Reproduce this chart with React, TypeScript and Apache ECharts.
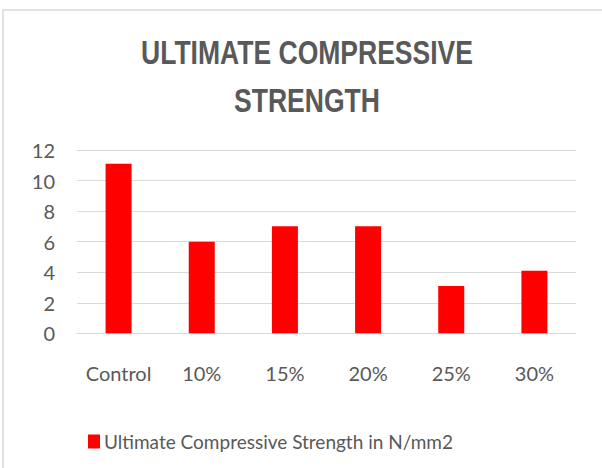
import React, { useEffect, useRef } from "react";
import * as echarts from "echarts";

const categories = ["Control", "10%", "15%", "20%", "25%", "30%"];
const strengthValues = [11.1, 6, 7, 7, 3.1, 4.1];
const seriesName = "Ultimate Compressive Strength in N/mm2";
const titleLines = ["ULTIMATE COMPRESSIVE", "STRENGTH"];

export default function App() {
  const ref = useRef<HTMLDivElement>(null);
  useEffect(() => {
    if (!ref.current) return;
    const chart = echarts.init(ref.current, undefined, { renderer: "svg" });
    const textColor = "#595959";
    const labelFont = "Lato, sans-serif";
    const titleFont = "Liberation Sans, Arial, sans-serif";
    chart.setOption({
      animation: false,
      backgroundColor: "#ffffff",
      graphic: [
        {
          type: "rect",
          shape: { x: 3, y: 10, width: 640, height: 520 },
          style: { fill: "none", stroke: "#d9d9d9", lineWidth: 1.5 },
          silent: true,
        },
        ...titleLines.map((line, i) => ({
          type: "text",
          x: 307,
          y: 52 + i * 48,
          scaleX: 0.78,
          style: {
            text: line,
            fill: textColor,
            font: `bold 34px ${titleFont}`,
            textAlign: "center",
            textVerticalAlign: "middle",
          },
          silent: true,
        })),
      ],
      legend: {
        left: 83,
        top: 427,
        itemWidth: 12,
        itemHeight: 14,
        icon: "rect",
        textStyle: { color: textColor, fontFamily: labelFont, fontSize: 19, padding: [0, 0, 0, -1] },
      },
      grid: { left: 77, right: 26, top: 150, bottom: 134.7, containLabel: false },
      xAxis: {
        type: "category",
        data: categories,
        axisLine: { show: true, lineStyle: { color: "#d9d9d9", width: 1 } },
        axisTick: { show: false },
        axisLabel: { color: textColor, fontFamily: labelFont, fontSize: 20, margin: 30, interval: 0 },
      },
      yAxis: {
        type: "value",
        min: 0,
        max: 12,
        interval: 2,
        axisLine: { show: false },
        axisTick: { show: false },
        splitLine: { lineStyle: { color: "#d9d9d9", width: 1 } },
        axisLabel: { color: textColor, fontFamily: labelFont, fontSize: 20, margin: 22 },
      },
      series: [
        {
          name: seriesName,
          type: "bar",
          data: strengthValues,
          barWidth: 26,
          itemStyle: { color: "#ff0000" },
        },
      ],
    });
    return () => chart.dispose();
  }, []);
  return (
    <div
      ref={ref}
      style={{ position: "fixed", left: 0, top: 0, width: 602, height: 468 }}
    />
  );
}
